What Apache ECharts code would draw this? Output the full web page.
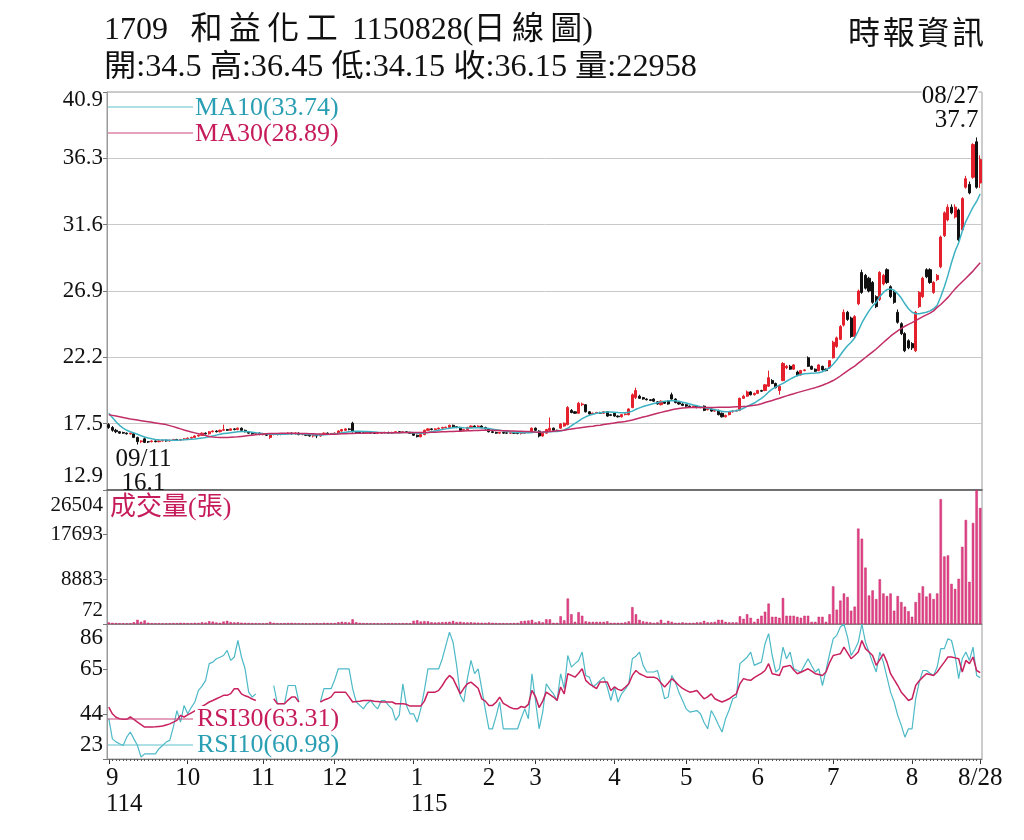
<!DOCTYPE html>
<html>
<head>
<meta charset="utf-8">
<title>1709 和益化工 日線圖</title>
<script src="https://cdn.jsdelivr.net/npm/echarts@6/dist/echarts.min.js"></script>
<style>
  html, body { margin: 0; padding: 0; background: #fff; }
  #chart { width: 1024px; height: 840px; }
</style>
</head>
<body>
<div id="chart"></div>
<script>
// 月份 / 交易日數
const monthNames = ['9', '10', '11', '12', '1', '2', '3', '4', '5', '6', '7', '8'];
const yearNames = ['114', '', '', '', '115', '', '', '', '', '', '', ''];
const monthDays = [22, 21, 20, 22, 21, 13, 22, 20, 20, 21, 22, 20];
const lastLabel = '8/28';

// 座標刻度
const priceTicks = ['12.9', '17.5', '22.2', '26.9', '31.6', '36.3', '40.9'];
const volTicks = ['72', '8883', '17693', '26504'];
const rsiTicks = ['23', '44', '65', '86'];

// K線 [開, 收, 低, 高]
const kSep = [[17.5,17.3,17.2,17.6],[17.3,17.1,17.0,17.4],[17.1,17.0,16.9,17.2],[17.0,16.9,16.85,17.05],[16.95,16.9,16.85,17.0],[16.9,16.85,16.8,16.95],[16.85,16.9,16.8,16.95],[16.85,16.6,16.55,16.9],[16.6,16.3,16.1,16.65],[16.3,16.35,16.2,16.4],[16.5,16.25,16.2,16.6],[16.3,16.28,16.2,16.35],[16.3,16.35,16.25,16.4],[16.35,16.3,16.25,16.4],[16.3,16.35,16.25,16.4],[16.35,16.4,16.3,16.45],[16.4,16.35,16.3,16.45],[16.35,16.4,16.3,16.45],[16.4,16.45,16.35,16.5],[16.45,16.4,16.35,16.5],[16.4,16.45,16.35,16.5],[16.45,16.5,16.4,16.55]];
const kOct = [[16.5,16.55,16.45,16.6],[16.55,16.6,16.5,16.65],[16.6,16.7,16.55,16.75],[16.7,16.75,16.65,16.8],[16.75,16.9,16.7,16.95],[16.9,16.85,16.8,16.95],[16.85,17.0,16.8,17.05],[17.0,17.05,16.95,17.1],[17.05,17.0,16.95,17.1],[17.0,17.1,16.95,17.15],[17.1,17.15,17.05,17.5],[17.15,17.1,17.05,17.2],[17.1,17.2,17.05,17.25],[17.2,17.15,17.1,17.25],[17.15,17.25,17.1,17.3],[17.25,17.1,17.05,17.3],[17.1,17.0,16.95,17.15],[17.0,16.9,16.85,17.05],[16.9,16.85,16.8,16.95],[16.85,16.9,16.8,16.95],[16.9,16.8,16.75,16.95]];
const kNov = [[16.8,16.8,16.75,16.85],[16.8,16.75,16.7,16.85],[16.6,16.8,16.5,16.85],[16.8,16.85,16.75,16.9],[16.85,16.8,16.75,16.9],[16.8,16.82,16.75,16.85],[16.82,16.85,16.78,16.9],[16.85,16.9,16.8,16.95],[16.9,16.85,16.8,16.95],[16.85,16.9,16.8,16.95],[16.9,16.8,16.75,16.95],[16.8,16.82,16.75,16.85],[16.82,16.75,16.7,16.85],[16.75,16.7,16.65,16.8],[16.7,16.75,16.6,16.8],[16.75,16.7,16.55,16.8],[16.7,16.8,16.65,16.85],[16.8,16.9,16.75,16.95],[16.9,16.85,16.8,16.95],[16.85,16.88,16.8,16.9]];
const kDec = [[16.88,16.9,16.82,16.95],[16.9,17.05,16.85,17.1],[17.05,17.15,17.0,17.2],[17.1,17.2,17.05,17.25],[17.2,17.15,17.1,17.25],[17.6,17.0,16.95,17.7],[17.0,16.95,16.9,17.05],[16.95,16.9,16.85,17.0],[16.92,16.9,16.85,16.95],[16.9,16.95,16.85,17.0],[16.95,16.9,16.85,17.0],[16.9,16.88,16.85,16.95],[16.88,16.9,16.83,16.95],[16.9,16.92,16.85,16.95],[16.92,16.95,16.88,17.0],[16.95,16.9,16.85,17.0],[16.9,16.95,16.85,17.0],[16.95,17.0,16.9,17.05],[17.0,16.95,16.9,17.05],[16.95,17.0,16.9,17.05],[17.0,16.95,16.9,17.05],[16.95,16.9,16.85,17.0]];
const kJan = [[16.9,16.75,16.7,16.95],[16.75,16.65,16.6,16.8],[16.65,16.8,16.6,16.85],[16.8,17.1,16.75,17.15],[17.1,17.2,17.05,17.25],[17.2,17.15,17.1,17.25],[17.15,17.2,17.1,17.25],[17.2,17.25,17.15,17.3],[17.25,17.3,17.2,17.35],[17.28,17.32,17.25,17.35],[17.3,17.45,17.25,17.5],[17.45,17.35,17.3,17.5],[17.35,17.3,17.25,17.4],[17.3,17.1,17.05,17.35],[17.1,17.15,17.05,17.2],[17.15,17.3,17.1,17.35],[17.3,17.4,17.25,17.45],[17.4,17.35,17.3,17.45],[17.35,17.4,17.3,17.45],[17.4,17.3,17.25,17.45],[17.3,17.2,17.15,17.35]];
const kFeb = [[17.2,17.0,16.95,17.25],[17.0,16.95,16.9,17.05],[16.95,16.9,16.85,17.0],[16.9,16.95,16.85,17.0],[16.95,16.9,16.85,17.0],[16.92,16.9,16.85,16.95],[16.9,16.92,16.85,16.95],[16.92,16.9,16.85,16.95],[16.9,16.88,16.82,16.95],[16.88,16.9,16.8,16.95],[16.9,17.0,16.85,17.05],[17.0,16.95,16.9,17.05],[16.95,17.25,16.9,17.3]];
const kMar = [[17.25,17.1,17.05,17.3],[17.05,16.7,16.6,17.1],[16.7,16.9,16.65,16.95],[16.9,17.15,16.85,17.2],[17.1,17.25,17.05,18.0],[17.25,17.1,17.05,17.3],[17.1,17.05,17.0,17.15],[17.25,17.55,17.2,17.6],[17.4,17.6,17.35,17.65],[17.5,18.7,17.45,18.8],[18.5,18.35,18.3,18.6],[18.4,18.3,18.25,18.45],[18.3,19.0,18.25,19.1],[18.9,18.95,18.8,19.05],[18.9,18.4,18.35,18.95],[18.4,18.25,18.2,18.45],[18.25,18.3,18.2,18.35],[18.3,18.35,18.25,18.4],[18.35,18.3,18.25,18.4],[18.3,18.4,18.25,18.45],[18.4,18.1,18.05,18.45],[18.2,18.15,18.1,18.25]];
const kApr = [[18.3,18.1,18.05,18.35],[18.1,18.05,18.0,18.15],[18.05,18.2,18.0,18.25],[18.2,18.25,18.15,18.3],[18.2,18.6,18.15,18.65],[18.7,19.6,18.65,19.7],[19.4,19.9,19.3,20.1],[19.5,19.35,19.3,19.6],[19.4,19.3,19.25,19.45],[19.3,19.25,19.2,19.35],[19.25,19.2,19.15,19.3],[19.3,19.15,19.1,19.35],[19.1,18.95,18.9,19.15],[18.9,19.15,18.85,19.2],[19.1,19.0,18.95,19.15],[19.15,18.95,18.9,19.2],[19.6,19.3,19.25,19.75],[19.3,19.05,19.0,19.35],[19.05,18.95,18.9,19.1],[18.95,18.85,18.8,19.0]];
const kMay = [[18.9,18.8,18.75,18.95],[18.8,18.75,18.7,18.85],[18.75,18.8,18.7,18.85],[18.8,18.7,18.65,18.85],[18.7,18.75,18.65,18.8],[18.8,18.5,18.45,18.85],[18.55,18.6,18.5,18.65],[18.6,18.45,18.4,18.65],[18.45,18.5,18.4,18.55],[18.5,18.2,18.15,18.55],[18.3,18.05,18.0,18.35],[18.05,18.15,18.0,18.2],[18.2,18.4,18.15,18.45],[18.4,18.45,18.35,18.5],[18.45,18.5,18.4,18.55],[18.5,19.35,18.45,19.4],[19.35,19.5,19.3,19.6],[19.5,19.8,19.45,19.9],[19.8,19.6,19.55,19.85],[19.6,19.7,19.55,19.75]];
const kJun = [[19.7,19.9,19.65,19.95],[19.9,19.85,19.8,19.95],[19.9,20.3,19.85,20.35],[20.2,20.8,20.15,21.3],[20.6,20.4,20.35,20.7],[20.4,20.1,20.05,20.45],[19.9,20.2,19.6,20.3],[20.6,21.8,20.55,21.9],[21.5,21.6,21.4,21.7],[21.6,21.4,21.35,21.7],[21.4,21.7,21.35,21.75],[21.2,20.95,20.9,21.3],[21.0,21.3,20.95,21.35],[21.3,21.35,21.25,21.4],[22.2,21.6,21.55,22.3],[21.6,21.4,21.35,21.65],[21.4,21.25,21.2,21.45],[21.3,21.7,21.25,21.75],[21.6,21.35,21.3,21.65],[21.4,21.3,21.25,21.45],[21.5,22.0,21.45,22.05]];
const kJul = [[22.2,23.3,22.15,23.4],[23.0,23.6,22.9,23.7],[23.5,24.4,23.45,24.5],[24.5,25.4,24.4,25.6],[25.4,24.9,24.8,25.5],[25.0,23.7,23.6,25.1],[23.7,25.1,23.6,25.2],[26.0,26.9,25.9,27.0],[28.2,26.8,26.7,28.4],[28.0,27.1,27.0,28.1],[27.8,26.9,26.8,27.9],[27.5,26.1,26.0,27.6],[26.5,25.8,25.7,26.6],[26.3,28.2,26.2,28.3],[27.4,28.0,27.3,28.1],[28.4,27.5,27.4,28.5],[27.2,26.5,26.4,27.3],[26.8,26.1,26.0,26.9],[25.4,24.7,24.6,25.6],[24.6,23.9,23.8,24.7],[23.9,22.7,22.6,24.0],[23.4,22.9,22.8,23.5]];
const kAug = [[23.2,22.9,22.75,23.3],[22.7,25.4,22.6,25.5],[25.8,26.8,25.7,26.9],[26.5,27.8,26.4,27.9],[28.4,27.9,27.8,28.5],[28.4,27.5,27.4,28.5],[26.8,27.5,26.7,27.6],[27.7,28.0,27.6,28.1],[28.6,30.7,28.5,30.8],[30.8,32.4,30.7,32.5],[31.9,32.8,31.8,33.0],[32.8,32.4,32.3,33.0],[32.1,32.8,32.0,33.0],[32.6,30.5,30.4,32.7],[31.2,33.4,31.1,33.5],[34.2,34.8,34.1,35.0],[34.4,33.8,33.7,34.6],[34.9,37.2,34.8,37.3],[37.4,34.2,34.1,37.7],[34.5,36.15,34.15,36.45]];

// 10日 / 30日均線
const ma10Sep = [18.3,18.0,17.7,17.45,17.25,17.1,17.0,16.92,16.82,16.72,16.63,16.56,16.5,16.46,16.43,16.42,16.41,16.4,16.4,16.4,16.41,16.43];
const ma10Oct = [16.45,16.47,16.49,16.52,16.55,16.59,16.64,16.7,16.76,16.82,16.87,16.9,16.93,16.96,16.99,17.01,17.02,17.0,16.97,16.93,16.9];
const ma10Nov = [16.87,16.85,16.83,16.82,16.82,16.82,16.83,16.84,16.85,16.85,16.85,16.84,16.83,16.81,16.79,16.77,16.77,16.78,16.8,16.82];
const ma10Dec = [16.85,16.88,16.92,16.96,17.0,17.02,17.03,17.03,17.02,17.01,17.0,16.98,16.96,16.95,16.93,16.92,16.92,16.93,16.93,16.94,16.95,16.95];
const ma10Jan = [16.93,16.9,16.89,16.91,16.95,17.0,17.05,17.1,17.15,17.2,17.25,17.28,17.3,17.3,17.28,17.27,17.27,17.28,17.28,17.27,17.25];
const ma10Feb = [17.22,17.18,17.14,17.1,17.06,17.02,16.99,16.97,16.95,16.93,16.93,16.93,16.95];
const ma10Mar = [16.97,16.97,16.97,16.98,17.0,17.01,17.02,17.05,17.12,17.25,17.42,17.58,17.75,17.92,18.05,18.15,18.23,18.3,18.34,18.37,18.39,18.39];
const ma10Apr = [18.37,18.35,18.34,18.34,18.37,18.45,18.58,18.68,18.77,18.85,18.92,18.98,19.04,19.1,19.14,19.17,19.19,19.18,19.14,19.08];
const ma10May = [19.02,18.95,18.88,18.82,18.76,18.7,18.65,18.6,18.55,18.5,18.44,18.41,18.42,18.45,18.48,18.55,18.65,18.78,18.9,19.02];
const ma10Jun = [19.18,19.35,19.55,19.8,20.0,20.15,20.28,20.4,20.55,20.7,20.83,20.95,21.03,21.08,21.1,21.12,21.13,21.15,21.22,21.35,21.5];
const ma10Jul = [21.75,22.05,22.4,22.75,23.05,23.3,23.6,24.1,24.65,25.1,25.5,25.85,26.1,26.5,26.8,27.0,27.05,26.95,26.7,26.4,26.0,25.65];
const ma10Aug = [25.4,25.3,25.3,25.35,25.4,25.5,25.65,25.9,26.5,27.2,28.0,28.9,29.7,30.3,31.1,31.8,32.3,32.8,33.2,33.74];

const ma30Sep = [18.2,18.15,18.1,18.05,18.0,17.95,17.9,17.86,17.82,17.78,17.74,17.7,17.66,17.62,17.58,17.54,17.5,17.43,17.36,17.28,17.2,17.12];
const ma30Oct = [17.05,16.98,16.92,16.86,16.8,16.73,16.67,16.63,16.61,16.6,16.6,16.6,16.61,16.62,16.64,16.67,16.7,16.73,16.76,16.79,16.82];
const ma30Nov = [16.84,16.86,16.87,16.88,16.88,16.89,16.89,16.89,16.89,16.89,16.88,16.88,16.87,16.86,16.85,16.84,16.84,16.83,16.83,16.83];
const ma30Dec = [16.83,16.84,16.85,16.86,16.87,16.88,16.89,16.9,16.9,16.91,16.91,16.92,16.92,16.92,16.92,16.93,16.93,16.93,16.93,16.94,16.94,16.94];
const ma30Jan = [16.94,16.94,16.94,16.95,16.95,16.96,16.97,16.98,16.99,17.0,17.01,17.02,17.03,17.04,17.05,17.06,17.07,17.08,17.09,17.1,17.1];
const ma30Feb = [17.1,17.1,17.09,17.08,17.07,17.06,17.05,17.05,17.04,17.03,17.02,17.01,17.0];
const ma30Mar = [16.98,16.97,16.98,17.0,17.02,17.04,17.06,17.08,17.11,17.15,17.19,17.23,17.27,17.3,17.33,17.36,17.39,17.43,17.46,17.5,17.54,17.58];
const ma30Apr = [17.62,17.66,17.69,17.72,17.77,17.83,17.9,17.97,18.03,18.09,18.16,18.23,18.3,18.36,18.42,18.48,18.54,18.6,18.64,18.67];
const ma30May = [18.69,18.7,18.7,18.7,18.7,18.7,18.7,18.71,18.71,18.72,18.72,18.73,18.73,18.74,18.75,18.76,18.78,18.8,18.83,18.86];
const ma30Jun = [18.9,18.97,19.05,19.13,19.2,19.28,19.36,19.44,19.52,19.6,19.67,19.75,19.82,19.89,19.96,20.03,20.1,20.18,20.27,20.37,20.48];
const ma30Jul = [20.6,20.75,20.92,21.1,21.28,21.45,21.62,21.82,22.02,22.22,22.42,22.62,22.82,23.05,23.28,23.5,23.72,23.92,24.1,24.27,24.42,24.55];
const ma30Aug = [24.68,24.82,24.96,25.1,25.22,25.34,25.5,25.75,25.95,26.2,26.45,26.75,27.05,27.3,27.55,27.8,28.05,28.3,28.6,28.89];

// 成交量(張)
const volSep = [380,300,260,240,220,200,230,420,900,520,780,330,250,220,240,210,200,230,260,240,300,280];
const volOct = [260,240,300,280,420,350,620,540,380,300,560,700,450,380,420,330,300,280,260,240,230];
const volNov = [200,260,480,300,240,220,250,280,300,260,240,220,210,200,230,260,220,300,280,250];
const volDec = [260,420,520,460,380,1000,420,300,260,240,220,230,210,200,220,240,250,230,220,260,240,230];
const volJan = [700,820,560,640,600,420,380,400,450,480,520,680,460,520,400,380,420,360,340,320,300];
const volFeb = [380,300,260,240,250,230,240,260,280,620,700,760,900];
const volMar = [400,600,400,1000,1000,300,300,1600,800,5100,2000,500,2400,1700,600,500,500,500,500,500,600,300];
const volApr = [300,300,300,400,600,3400,2000,900,600,500,400,300,400,900,300,700,500,300,300,400];
const volMay = [300,300,300,400,400,700,400,400,500,900,900,500,400,400,400,1600,1100,2000,1300,500];
const volJun = [1100,1700,2500,4100,1500,1500,1300,5200,1700,1700,1700,1500,1300,1700,1700,500,500,1500,1500,500,2000];
const volJul = [7500,2900,4700,6100,5400,2700,3500,18900,16900,11200,5700,6700,5000,8900,6100,5600,6100,2700,5600,4400,3500,2600];
const volAug = [1500,4400,6200,7500,5500,6100,5000,6100,24700,13400,13600,8000,7000,9000,15300,20600,8400,20000,26504,22958];

// RSI10 / RSI30 (null = 線中斷)
const rsi10Sep = [41.8,32.4,31,30.1,29.3,33.2,35.6,32.4,29.3,23.9,25.4,25.4,25.4,25.4,27.8,29.3,30.9,31.7,37.9,45.6,40.2,48.0];
const rsi10Oct = [44.1,47,49.6,55,57,59.7,67.5,68.2,69.8,70.5,71.3,73.7,69,70.6,78.3,70.6,65.1,54.2,51.9,53.4,null];
const rsi10Nov = [null,null,null,57.3,48.8,48.8,48.8,57.3,57.3,57.3,49.6,null,null,null,null,null,49.6,55.8,55.8,55.8];
const rsi10Dec = [60,65.1,65.1,65.1,65.1,55.8,49.6,48,46.4,48.8,50.3,48,46.4,50.3,50.3,48,46.4,41,43.5,58.1,48,44.1];
const rsi10Jan = [44.1,40.2,46.4,55,65.1,65.1,65.1,65.1,69.8,76,82.2,77.5,66.7,52.7,49.6,60.5,69,62.8,65.1,55.8,46];
const rsi10Feb = [37.1,37.1,43,49.6,37.1,37.1,37.1,37.1,37.1,42,46.4,41.8,62.8];
const rsi10Mar = [50,37.1,44.9,58.1,55.5,53.4,50.3,62.8,55.8,71.3,65.9,67.5,69,72.9,62,61.2,56.6,58,59.7,61.2,56.6,50.3];
const rsi10Apr = [56.6,49.6,53.4,55.5,58.1,69.8,71,72.9,66.7,63.6,63.6,63.6,64.3,58.1,51.1,51.9,62,58.9,54,50.3];
const rsi10May = [46.4,44.9,45.2,45.6,44.1,40,37.1,45.6,42.6,39,35.6,41.8,46,51.1,51.9,67.5,69,70.5,72.9,66.7];
const rsi10Jun = [67.5,68.2,76.8,81.5,71.3,63.6,65.1,75.2,69.8,72.9,65.1,64.3,63.6,66.7,69.8,66.5,63.6,65.1,57.3,64.3,72];
const rsi10Jul = [79.1,80.7,84.6,86,79.9,71.3,74,77.5,86,77.5,72.9,68,63.6,72.9,68.2,61.2,54.2,49.6,43.3,38.7,33.2,37.1];
const rsi10Aug = [37.1,51.1,58.9,64.3,64.3,63,62,65.9,74.5,74.5,79.1,78.3,71.3,60.5,69.8,72.9,69,75.2,62,60.98];

const rsi30Sep = [47.2,44.1,42.5,41.8,41.5,41.5,42.6,41.5,40.2,39,37.9,37.9,37.9,38,38.2,38.4,38.9,39.4,40.2,41.0,43.3,42.6];
const rsi30Oct = [43.6,44.5,45.5,46.5,47.5,48.5,49.6,50.3,51.1,51.9,52.7,52.7,53.5,55.8,55.8,53.4,52.5,51.9,51,50.3,null];
const rsi30Nov = [null,null,null,51.1,48.8,48.8,48.8,50.5,51.9,51.9,49.6,null,null,null,null,null,49.6,50.5,51.1,52];
const rsi30Dec = [54.2,54.2,54.2,54.2,52,49.6,49.8,50,50.3,50.3,50.3,50,49.8,49.6,49.6,49.6,49.6,48.8,48.8,48.8,48.5,47.7];
const rsi30Jan = [47.7,47.7,47.7,50,54.2,54.2,54.2,55,57.3,60,62,60.5,57,53.4,56,58.1,58.9,57.5,56,51.1,50];
const rsi30Feb = [48,48,49.5,51.9,49,48,47,46.4,46.4,47.5,47,48.5,55];
const rsi30Mar = [52,47,50,54.2,53,51.9,50.3,56.6,53.4,62.8,62,61.2,63,65.1,59.7,58.1,57,55.8,58.9,58.9,58.9,55];
const rsi30Apr = [56.6,55.5,55,56.5,58.1,62,64.3,62.8,62,61.2,61.2,61.2,60.5,58.5,56.6,58.5,60.5,59,57.3,56];
const rsi30May = [55,54.2,54.5,55,53,51.1,52,53.4,51.1,50.3,49.6,50.3,51.1,52.3,53.4,58.1,60.5,60,59.7,61];
const rsi30Jun = [62,63,64.3,67.5,62.8,62.4,62,65.9,66.3,66.7,64.5,62.8,63.5,64.3,65.1,64,62.8,62.4,62,63.6,68];
const rsi30Jul = [71.3,71.7,72.1,75.2,72.5,69.8,71.3,72.9,78.3,74.5,72.9,71.3,66.7,69.4,72.1,68.2,62.8,60,57.3,54.2,52.3,50.3];
const rsi30Aug = [51.1,57.3,59.5,61.2,62.8,62.4,62,63.6,66,68.2,70.6,70.6,70.2,69.8,63.6,69,67.5,70.6,64.3,63.31];

const kLine = [].concat(kSep, kOct, kNov, kDec, kJan, kFeb, kMar, kApr, kMay, kJun, kJul, kAug);
const ma10 = [].concat(ma10Sep, ma10Oct, ma10Nov, ma10Dec, ma10Jan, ma10Feb, ma10Mar, ma10Apr, ma10May, ma10Jun, ma10Jul, ma10Aug);
const ma30 = [].concat(ma30Sep, ma30Oct, ma30Nov, ma30Dec, ma30Jan, ma30Feb, ma30Mar, ma30Apr, ma30May, ma30Jun, ma30Jul, ma30Aug);
const volume = [].concat(volSep, volOct, volNov, volDec, volJan, volFeb, volMar, volApr, volMay, volJun, volJul, volAug);
const rsi10 = [].concat(rsi10Sep, rsi10Oct, rsi10Nov, rsi10Dec, rsi10Jan, rsi10Feb, rsi10Mar, rsi10Apr, rsi10May, rsi10Jun, rsi10Jul, rsi10Aug);
const rsi30 = [].concat(rsi30Sep, rsi30Oct, rsi30Nov, rsi30Dec, rsi30Jan, rsi30Feb, rsi30Mar, rsi30Apr, rsi30May, rsi30Jun, rsi30Jul, rsi30Aug);

// 交易日類別 (月-第幾個交易日)
const categories = [];
const monthStart = {};
monthDays.forEach((n, m) => {
  monthStart[categories.length] = m;
  for (let d = 1; d <= n; d++) categories.push(monthNames[m] + '-' + d);
});
const lastIdx = categories.length - 1;

const SERIF = '"Liberation Serif", "Noto Sans CJK TC", serif';
const TEAL = '#2A9FB3';
const CRIMSON = '#C61C5C';
const TS = '\u2009'; // 中文字間距
const HS = '\u200A';

// 最高 / 最低點
let hiIdx = 0, loIdx = 0;
kLine.forEach((k, i) => {
  if (k[3] > kLine[hiIdx][3]) hiIdx = i;
  if (k[2] < kLine[loIdx][2]) loIdx = i;
});

const last = kLine[lastIdx];
const fmt2 = (v) => v.toFixed(2);

function tickAxis(gridIndex, ticks, size, padTop, padBottom) {
  const n = ticks.length - 1;
  return {
    type: 'value', gridIndex: gridIndex, min: 0, max: n, interval: 1, position: 'left',
    axisLine: { show: true, lineStyle: { color: '#9a9a9a' } },
    axisTick: { show: true, length: 4, lineStyle: { color: '#777' } },
    axisLabel: {
      margin: 4, color: '#111', fontFamily: SERIF, fontSize: size,
      formatter: (v) => {
        const i = Math.round(v);
        if (i === 0) return '{up|' + ticks[i] + '}';
        if (i === n) return '{dn|' + ticks[i] + '}';
        return '{n|' + ticks[i] + '}';
      },
      rich: {
        n: { fontFamily: SERIF, fontSize: size, color: '#111' },
        up: { fontFamily: SERIF, fontSize: size, color: '#111', padding: [0, 0, padBottom, 0] },
        dn: { fontFamily: SERIF, fontSize: size, color: '#111', padding: [padTop, 0, 0, 0] }
      }
    },
    splitLine: { show: gridIndex === 0, lineStyle: { color: '#c9c9c9', width: 1 } }
  };
}

function txt(x, y, text, size, color, align, bg, sx) {
  const style = {
    text: text, font: size + 'px ' + SERIF, fill: color,
    align: align, verticalAlign: 'middle', textAlign: align, textVerticalAlign: 'middle'
  };
  if (bg) { style.backgroundColor = '#fff'; style.padding = [0, 2, 0, 2]; }
  const el = { type: 'text', x: x, y: y, z: 100, style: style };
  if (sx) el.scaleX = sx;
  return el;
}
function seg(x1, x2, y, color) {
  return { type: 'line', z: 100, shape: { x1: x1, y1: y, x2: x2, y2: y }, style: { stroke: color, lineWidth: 1 } };
}

const chart = echarts.init(document.getElementById('chart'));

const gridBase = { left: 107, right: 42, show: true, borderColor: '#9a9a9a', borderWidth: 1, outerBoundsMode: 'none' };

const titleText = '1709' + TS + '  和' + TS + '益' + TS + '化' + TS + '工' + TS + ' 1150828(日' + TS + '線' + TS + '圖' + ')';
const quoteText = '開:' + last[0] + ' 高:' + last[3] + ' 低:' + last[2] + ' 收:' + last[1] + ' 量:' + volume[lastIdx];

const option = {
  animation: false,
  backgroundColor: '#fff',
  grid: [
    Object.assign({ top: 92, height: 398 }, gridBase),
    Object.assign({ top: 490, height: 134 }, gridBase),
    Object.assign({ top: 624, height: 135 }, gridBase)
  ],
  xAxis: [
    { type: 'category', gridIndex: 0, data: categories, position: 'bottom',
      axisLine: { show: true, lineStyle: { color: '#555', width: 1.5 } },
      axisTick: { show: false }, axisLabel: { show: false }, splitLine: { show: false } },
    { type: 'category', gridIndex: 1, data: categories, position: 'bottom',
      axisLine: { show: true, lineStyle: { color: '#888' } },
      axisTick: { show: false }, axisLabel: { show: false }, splitLine: { show: false } },
    { type: 'category', gridIndex: 2, data: categories, position: 'bottom',
      axisLine: { show: true, lineStyle: { color: '#777' } },
      axisTick: { show: true, alignWithLabel: true, length: 5, lineStyle: { color: '#333' },
        interval: (i) => monthStart[i] !== undefined || i === lastIdx },
      axisLabel: {
        interval: 0, margin: 6, color: '#111', fontFamily: SERIF, fontSize: 25,
        formatter: (val, i) => {
          if (i === lastIdx) return '{m|' + lastLabel + '}';
          const m = monthStart[i];
          if (m === undefined) return '';
          if (yearNames[m]) return '{a|' + monthNames[m] + '}\n{a|' + yearNames[m] + '}';
          return '{m|' + monthNames[m] + '}';
        },
        rich: {
          m: { fontFamily: SERIF, fontSize: 25, color: '#111', lineHeight: 26 },
          a: { fontFamily: SERIF, fontSize: 25, color: '#111', lineHeight: 26, align: 'left', padding: [0, 0, 0, 31] }
        }
      },
      splitLine: { show: false } },
    { type: 'category', gridIndex: 2, data: categories, position: 'bottom',
      axisLine: { show: false },
      axisTick: { show: true, interval: 0, alignWithLabel: true, length: 2, lineStyle: { color: '#555' } },
      axisLabel: { show: false }, splitLine: { show: false } }
  ],
  yAxis: [
    { type: 'value', gridIndex: 0, min: 12.9, max: 40.9, show: false, splitLine: { show: false } },
    tickAxis(0, priceTicks, 23, 16, 28),
    { type: 'value', gridIndex: 1, min: 72, max: 26504, show: false, splitLine: { show: false } },
    tickAxis(1, volTicks, 21, 30, 28),
    { type: 'value', gridIndex: 2, min: 23, max: 86, show: false, splitLine: { show: false } },
    tickAxis(2, rsiTicks, 23, 28, 28)
  ],
  series: [
    {
      name: 'K', type: 'candlestick', xAxisIndex: 0, yAxisIndex: 0, data: kLine,
      barWidth: 2.6,
      itemStyle: { color: '#E3202B', color0: '#111', borderColor: '#E3202B', borderColor0: '#111', borderWidth: 1 },
      markPoint: {
        symbol: 'circle', symbolSize: 1, itemStyle: { color: 'rgba(0,0,0,0)' },
        data: [
          { coord: [categories[hiIdx], kLine[hiIdx][3]], value: kLine[hiIdx][3],
            label: { show: true, formatter: '08/27\n' + kLine[hiIdx][3], position: 'top', align: 'right', distance: 5, offset: [2, 0],
              color: '#111', fontFamily: SERIF, fontSize: 25, lineHeight: 24, backgroundColor: '#fff' } },
          { coord: [categories[loIdx], kLine[loIdx][2]], value: kLine[loIdx][2],
            label: { show: true, formatter: '09/11\n' + kLine[loIdx][2], position: 'bottom', align: 'center', distance: 2, offset: [6, 0],
              color: '#111', fontFamily: SERIF, fontSize: 25, lineHeight: 24 } }
        ]
      }
    },
    { name: 'MA10', type: 'line', xAxisIndex: 0, yAxisIndex: 0, data: ma10, symbol: 'none', z: 3,
      lineStyle: { color: '#3CB1C2', width: 1.5 } },
    { name: 'MA30', type: 'line', xAxisIndex: 0, yAxisIndex: 0, data: ma30, symbol: 'none', z: 3,
      lineStyle: { color: '#C12E66', width: 1.5 } },
    { name: '成交量', type: 'bar', xAxisIndex: 1, yAxisIndex: 2, data: volume, barWidth: 2.4,
      itemStyle: { color: '#E6428A', borderColor: '#BE2864', borderWidth: 0.5 } },
    { name: 'RSI10', type: 'line', xAxisIndex: 2, yAxisIndex: 4, data: rsi10, symbol: 'none', connectNulls: false,
      lineStyle: { color: '#4DB9C7', width: 1.2 } },
    { name: 'RSI30', type: 'line', xAxisIndex: 2, yAxisIndex: 4, data: rsi30, symbol: 'none', connectNulls: false,
      lineStyle: { color: '#C8215E', width: 1.5 } }
  ],
  graphic: [
    txt(104, 31, titleText, 32, '#111', 'left'),
    txt(104, 68, quoteText, 31, '#111', 'left', false, 1.04),
    txt(984, 36, '時' + HS + '報' + HS + '資' + HS + '訊', 32, '#111', 'right'),
    seg(108, 193, 107, '#5CC0CC'),
    txt(195, 108, 'MA10(' + fmt2(ma10[lastIdx]) + ')', 26, TEAL, 'left'),
    seg(108, 193, 133, '#C8447A'),
    txt(195, 134, 'MA30(' + fmt2(ma30[lastIdx]) + ')', 26, CRIMSON, 'left'),
    txt(110, 508, '成交量(張)', 26, CRIMSON, 'left'),
    seg(108, 193, 719, '#C8447A'),
    txt(195, 719, 'RSI30(' + fmt2(rsi30[lastIdx]) + ')', 26, CRIMSON, 'left', true),
    seg(108, 193, 745, '#5CC0CC'),
    txt(195, 745, 'RSI10(' + fmt2(rsi10[lastIdx]) + ')', 26, TEAL, 'left', true)
  ]
};

chart.setOption(option);
</script>
</body>
</html>
